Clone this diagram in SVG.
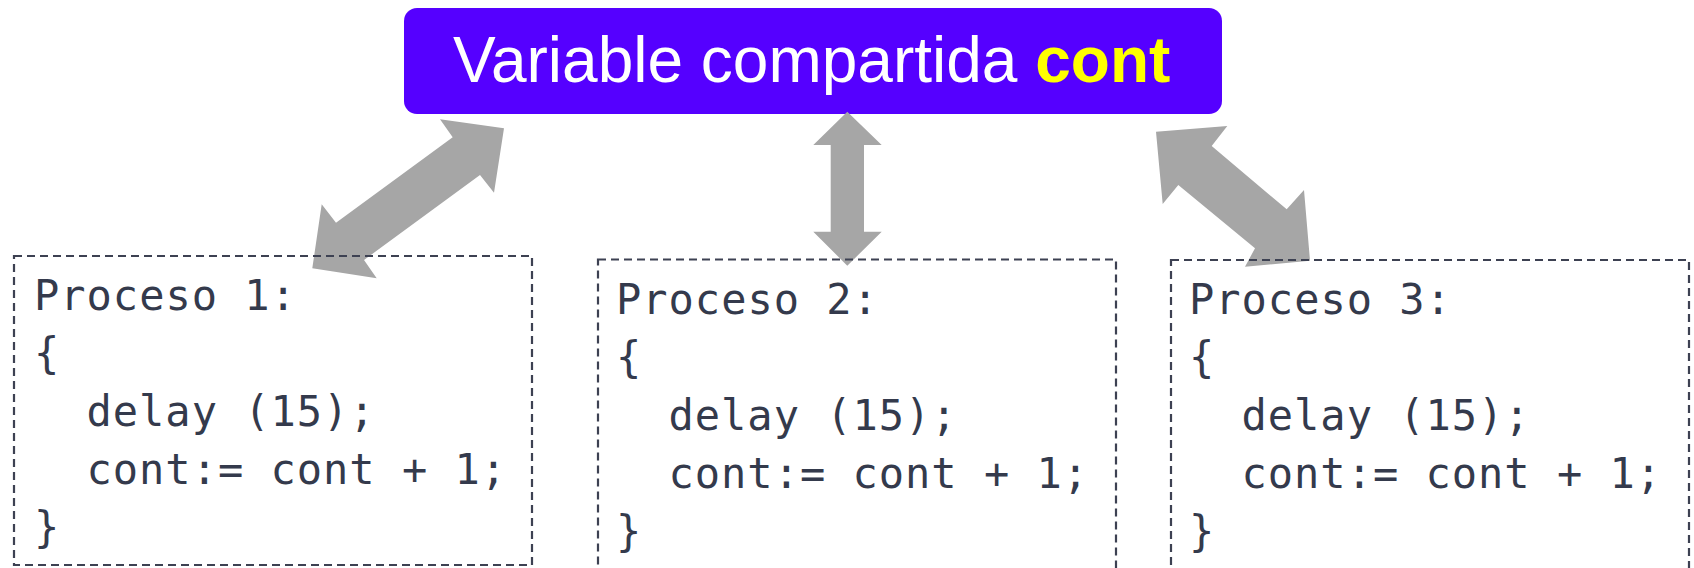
<svg xmlns="http://www.w3.org/2000/svg" width="1694" height="568" viewBox="0 0 1694 568">
  <style>
    .title { font-family: "Liberation Sans", Arial, sans-serif; font-size: 64px; fill: #ffffff; }
    .title .hl { font-weight: bold; fill: #ffff00; }
    .frame { fill: none; stroke: #3d4152; stroke-width: 2.2; stroke-dasharray: 8 5; }
    .code { font-family: "DejaVu Sans Mono", "Liberation Mono", monospace; font-size: 42px; letter-spacing: 1px; fill: #343a4c; }
    .link { fill: #a6a6a6; }
  </style>
  <rect width="1694" height="568" fill="#ffffff"/>

  <!-- shared variable -->
  <g id="shared-var">
    <rect x="404" y="8" width="818" height="106" rx="13" ry="13" fill="#5500ff"/>
    <text class="title" x="453" y="82">Variable compartida <tspan class="hl">cont</tspan></text>
  </g>

  <!-- double-headed block arrows -->
  <g id="connectors">
    <polygon class="link" points="504,128.3 494,192.7 480,175 364,260 376.7,278.3 312.3,268.3 321.7,204.3 336,222.7 452.7,137.3 440,119.3"/>
    <polygon class="link" points="847.3,111.7 881.7,145 864,145 864,231.7 881.7,231.7 847.3,265.7 813.3,231.7 830.7,231.7 830.7,145 813.3,145"/>
    <polygon class="link" points="1156,131.7 1227.3,126 1211.7,146 1286.7,209.3 1304,190 1310,260.7 1245,266.7 1255,248.3 1178.3,185 1162.7,204"/>
  </g>

  <!-- process 1 -->
  <g id="proceso-1">
    <rect class="frame" x="14" y="256" width="518" height="309"/>
    <text class="code" x="34" y="310">Proceso 1:</text>
    <text class="code" x="34" y="368">{</text>
    <text class="code" x="86.5" y="426">delay (15);</text>
    <text class="code" x="86.5" y="484">cont:= cont + 1;</text>
    <text class="code" x="34" y="542">}</text>
  </g>

  <!-- process 2 -->
  <g id="proceso-2">
    <rect class="frame" x="598" y="259.5" width="518" height="330"/>
    <text class="code" x="616" y="314">Proceso 2:</text>
    <text class="code" x="616" y="372">{</text>
    <text class="code" x="668.5" y="430">delay (15);</text>
    <text class="code" x="668.5" y="488">cont:= cont + 1;</text>
    <text class="code" x="616" y="546">}</text>
  </g>

  <!-- process 3 -->
  <g id="proceso-3">
    <rect class="frame" x="1171" y="260" width="518" height="330"/>
    <text class="code" x="1189" y="314">Proceso 3:</text>
    <text class="code" x="1189" y="372">{</text>
    <text class="code" x="1241.5" y="430">delay (15);</text>
    <text class="code" x="1241.5" y="488">cont:= cont + 1;</text>
    <text class="code" x="1189" y="546">}</text>
  </g>
</svg>
